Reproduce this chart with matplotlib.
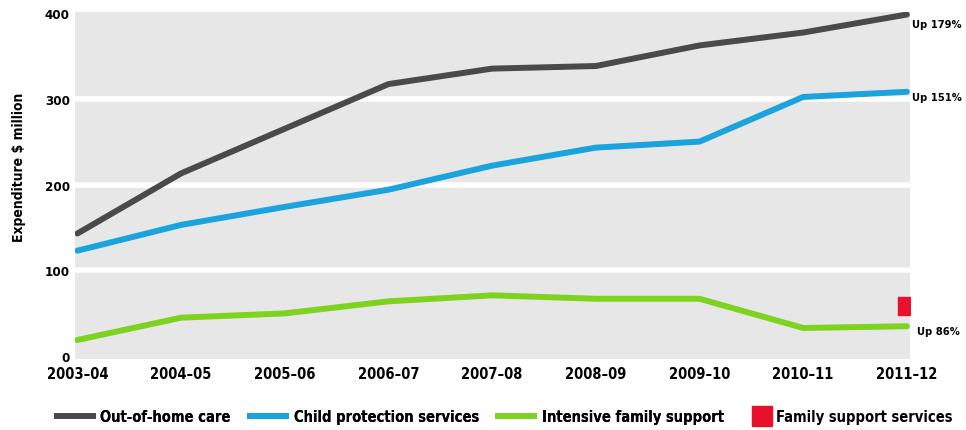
import matplotlib.pyplot as plt
from matplotlib.lines import Line2D

plt.rcParams['font.family'] = ['DejaVu Sans']
plt.rcParams['font.stretch'] = 'condensed'

years = ['2003–04', '2004–05', '2005–06', '2006–07', '2007–08',
         '2008–09', '2009–10', '2010–11', '2011–12']
out_of_home = [143, 213, 265, 317, 335, 338, 362, 377, 398]
child_protection = [123, 153, 174, 194, 222, 243, 250, 302, 308]
intensive_family = [19, 45, 50, 64, 71, 67, 67, 33, 35]
family_support_2012 = 59

growth_labels = ['Up 179%', 'Up 151%', 'Up 86%']

c_grey = '#4a4a4a'
c_blue = '#1aa3dc'
c_green = '#7ed321'
c_red = '#e8112d'

fig = plt.figure(figsize=(9.66, 4.31), dpi=100)
ax = fig.add_axes([0.078, 0.165, 0.864, 0.805])
ax.set_facecolor('#e7e7e7')

x = list(range(len(years)))
ax.plot(x, out_of_home, color=c_grey, lw=4.3, solid_capstyle='round', zorder=3)
ax.plot(x, child_protection, color=c_blue, lw=4.3, solid_capstyle='round', zorder=3)
ax.plot(x, intensive_family, color=c_green, lw=4.3, solid_capstyle='round', zorder=3)
ax.scatter([x[-1]], [family_support_2012], marker='s', s=150, color=c_red, zorder=4)

ax.set_xlim(-0.02, 8.03)
ax.set_ylim(-3, 401)
ax.set_yticks([0, 100, 200, 300, 400])
ax.set_xticks(x)
ax.set_xticklabels(years)
ax.tick_params(axis='x', length=0, labelsize=10.5, pad=5)
ax.tick_params(axis='y', length=0, labelsize=9.5, pad=4)
for lbl in ax.get_xticklabels() + ax.get_yticklabels():
    lbl.set_fontweight('bold')

# white bands separating the grey panels
for yv in [100, 200, 300]:
    ax.axhline(yv, color='white', lw=4, zorder=2)
for side in ax.spines.values():
    side.set_visible(False)

ax.set_ylabel('Expenditure $ million', fontsize=10, fontweight='bold')
ax.yaxis.set_label_coords(-0.059, 0.556)

# growth notes at the end of each line
ends = [out_of_home[-1], child_protection[-1], intensive_family[-1]]
offsets = [(4, -6.5), (4, -3.6), (7.5, -3.6)]
for label, yv, off in zip(growth_labels, ends, offsets):
    ax.annotate(label, (x[-1], yv), xytext=off, textcoords='offset points',
                fontsize=8, fontweight='bold', va='center', ha='left',
                annotation_clip=False)

line_handles = [
    Line2D([], [], color=c_grey, lw=4.3),
    Line2D([], [], color=c_blue, lw=4.3),
    Line2D([], [], color=c_green, lw=4.3),
]
line_names = ['Out-of-home care', 'Child protection services',
              'Intensive family support']
leg_font = {'weight': 'bold', 'size': 10.5}
leg1 = fig.legend(line_handles, line_names, loc='lower left', ncol=3, frameon=False,
                  bbox_to_anchor=(0.0527, 0.0), borderaxespad=0, handlelength=2.5,
                  handletextpad=0.5, columnspacing=1.3, prop=leg_font)
fig.add_artist(leg1)

square_handle = [Line2D([], [], marker='s', color=c_red, lw=0, markersize=14)]
fig.legend(square_handle, ['Family support services'], loc='lower left', frameon=False,
           bbox_to_anchor=(0.772, 0.0), borderaxespad=0, handlelength=1.4,
           handletextpad=0.3, prop=leg_font)

fig.savefig('out.png', dpi=100)
